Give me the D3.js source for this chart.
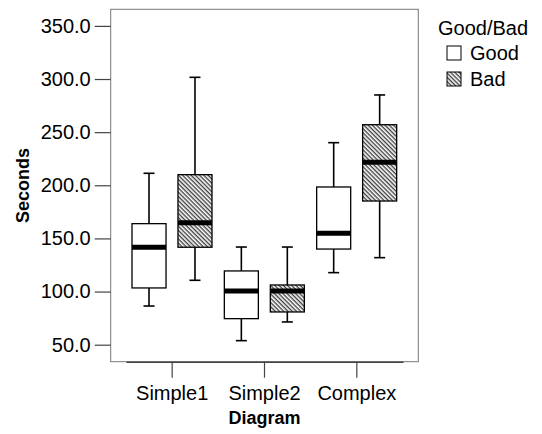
<!DOCTYPE html>
<html>
<head>
<meta charset="utf-8">
<script src="https://cdn.jsdelivr.net/npm/d3@7"></script>
<style>
  body { margin: 0; background: #fff; }
  text { font-family: Arial, "Liberation Sans", sans-serif; fill: #000; }
</style>
</head>
<body>
<div id="chart"></div>
<script>
// categories and groups
const diagrams = ["Simple1", "Simple2", "Complex"];
const groups = ["Good", "Bad"];
const yTicks = [50, 100, 150, 200, 250, 300, 350];

// box stats: [whiskerLow, q1, median, q3, whiskerHigh]
const goodStats = [
    [86.4, 103.4, 141.7, 163.9, 211.3],
    [53.8, 74.5, 100.5, 119.4, 141.9],
    [117.8, 140.0, 154.8, 198.4, 240.1]
];
const badStats = [
    [110.6, 141.7, 164.8, 210.0, 301.6],
    [71.4, 80.8, 100.5, 106.2, 141.9],
    [131.9, 185.2, 221.6, 257.0, 285.0]
];

let boxes = [];
diagrams.forEach(function (d, i) {
    [goodStats[i], badStats[i]].forEach(function (s, j) {
        boxes.push({diagram: d, group: groups[j], lo: s[0], q1: s[1], med: s[2], q3: s[3], hi: s[4]});
    });
});

const W = 542, H = 434;
const svg = d3.select("#chart").append("svg")
    .attr("width", W)
    .attr("height", H);

// hatch pattern for "Bad" (lines running top-left to bottom-right)
const defs = svg.append("defs");
const pat = defs.append("pattern")
    .attr("id", "hatch")
    .attr("patternUnits", "userSpaceOnUse")
    .attr("width", 3)
    .attr("height", 3)
    .attr("patternTransform", "rotate(45)");
pat.append("rect").attr("width", 3).attr("height", 3).attr("fill", "#fff");
pat.append("line")
    .attr("x1", 0).attr("y1", 0.7).attr("x2", 3).attr("y2", 0.7)
    .attr("stroke", "#333").attr("stroke-width", 1.3);

// plot frame
const frame = {left: 110.7, top: 9.3, right: 418.3, bottom: 361.7};

// scales
const y = d3.scaleLinear()
    .domain([34, 365.6])
    .range([frame.bottom, frame.top]);

const x = d3.scaleBand()
    .domain(diagrams)
    .range([126, 403]);

const xSub = d3.scaleBand()
    .domain(groups)
    .range([6, 86])
    .paddingInner(0.26);

svg.append("rect")
    .attr("x", frame.left)
    .attr("y", frame.top)
    .attr("width", frame.right - frame.left)
    .attr("height", frame.bottom - frame.top)
    .attr("fill", "none")
    .attr("stroke", "#777")
    .attr("stroke-width", 1);

// axes
const yAxis = d3.axisLeft(y)
    .tickValues(yTicks)
    .tickFormat(d3.format(".1f"))
    .tickSize(16)
    .tickPadding(4);

const gy = svg.append("g")
    .attr("transform", "translate(" + frame.left + ",0)")
    .call(yAxis);
gy.select(".domain").remove();
gy.selectAll(".tick line").attr("stroke", "#444").attr("stroke-width", 1.2);
gy.selectAll(".tick text").attr("font-size", "20px").attr("fill", "#111");

const xAxis = d3.axisBottom(x)
    .tickSize(16)
    .tickSizeOuter(0)
    .tickPadding(8);

const gx = svg.append("g")
    .attr("transform", "translate(0," + frame.bottom + ")")
    .call(xAxis);
gx.select(".domain").attr("stroke", "#444").attr("stroke-width", 1.5);
gx.selectAll(".tick line").attr("stroke", "#444").attr("stroke-width", 1.2);
gx.selectAll(".tick text").attr("font-size", "20px").attr("fill", "#111");

// axis titles
svg.append("text")
    .attr("x", (126 + 403) / 2)
    .attr("y", 424)
    .attr("text-anchor", "middle")
    .attr("font-size", "18px")
    .attr("font-weight", "bold")
    .text("Diagram");

svg.append("text")
    .attr("transform", "translate(29," + (frame.top + frame.bottom) / 2 + ") rotate(-90)")
    .attr("text-anchor", "middle")
    .attr("font-size", "18px")
    .attr("font-weight", "bold")
    .text("Seconds");

// boxes
const g = svg.selectAll(".box")
    .data(boxes)
    .enter()
    .append("g")
    .attr("class", "box")
    .attr("transform", function (d) { return "translate(" + (x(d.diagram) + xSub(d.group)) + ",0)"; });

const bw = xSub.bandwidth();
const cap = 11;

// whiskers
g.append("line")
    .attr("x1", bw / 2).attr("x2", bw / 2)
    .attr("y1", function (d) { return y(d.hi); })
    .attr("y2", function (d) { return y(d.q3); })
    .attr("stroke", "#000").attr("stroke-width", 1.6);
g.append("line")
    .attr("x1", bw / 2).attr("x2", bw / 2)
    .attr("y1", function (d) { return y(d.q1); })
    .attr("y2", function (d) { return y(d.lo); })
    .attr("stroke", "#000").attr("stroke-width", 1.6);
g.append("line")
    .attr("x1", bw / 2 - cap / 2).attr("x2", bw / 2 + cap / 2)
    .attr("y1", function (d) { return y(d.hi); })
    .attr("y2", function (d) { return y(d.hi); })
    .attr("stroke", "#000").attr("stroke-width", 1.6);
g.append("line")
    .attr("x1", bw / 2 - cap / 2).attr("x2", bw / 2 + cap / 2)
    .attr("y1", function (d) { return y(d.lo); })
    .attr("y2", function (d) { return y(d.lo); })
    .attr("stroke", "#000").attr("stroke-width", 1.6);

g.append("rect")
    .attr("x", 0)
    .attr("width", bw)
    .attr("y", function (d) { return y(d.q3); })
    .attr("height", function (d) { return y(d.q1) - y(d.q3); })
    .attr("fill", function (d) { return d.group === "Bad" ? "url(#hatch)" : "#fff"; })
    .attr("stroke", "#000")
    .attr("stroke-width", 1.3);

g.append("line")
    .attr("x1", 0).attr("x2", bw)
    .attr("y1", function (d) { return y(d.med); })
    .attr("y2", function (d) { return y(d.med); })
    .attr("stroke", "#000").attr("stroke-width", 5);

// legend
svg.append("text")
    .attr("x", 438)
    .attr("y", 35)
    .attr("font-size", "20px")
    .text("Good/Bad");

const leg = svg.selectAll(".legend")
    .data(groups)
    .enter()
    .append("g")
    .attr("class", "legend")
    .attr("transform", function (d, i) { return "translate(447," + (46 + i * 26) + ")"; });

leg.append("rect")
    .attr("width", 14)
    .attr("height", 14)
    .attr("fill", function (d) { return d === "Bad" ? "url(#hatch)" : "#fff"; })
    .attr("stroke", "#000")
    .attr("stroke-width", 1);

leg.append("text")
    .attr("x", 23)
    .attr("y", 14)
    .attr("font-size", "20px")
    .text(function (d) { return d; });
</script>
</body>
</html>
